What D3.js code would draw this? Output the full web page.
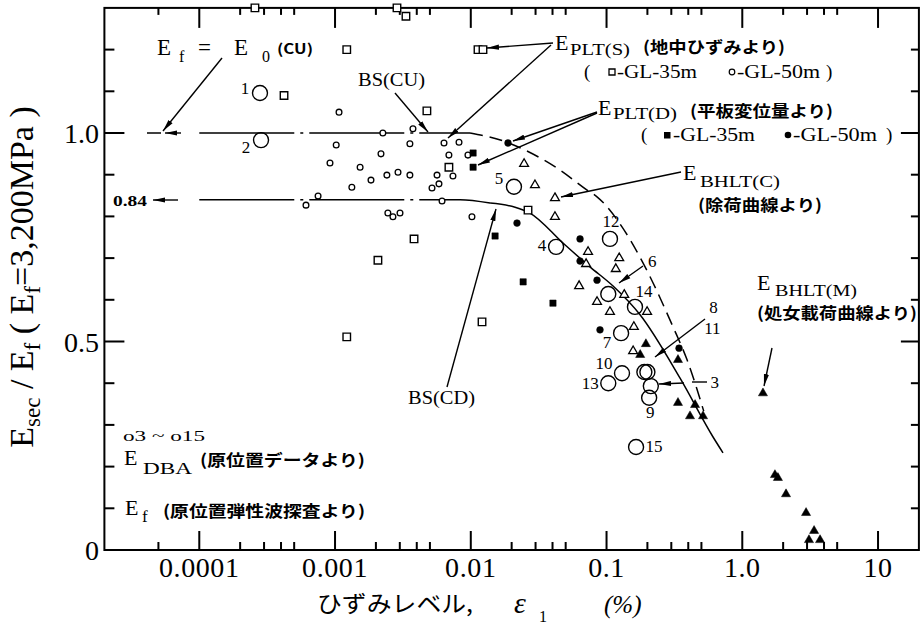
<!DOCTYPE html>
<html>
<head>
<meta charset="utf-8">
<script src="https://cdn.jsdelivr.net/npm/d3@7"></script>
<style>
  body { margin: 0; background: #fff; }
  text { fill: #000; }
</style>
</head>
<body>
<svg id="chart" width="920" height="627"></svg>
<script>
// ---- axis definitions -------------------------------------------------
const xTickValues = [0.0001, 0.001, 0.01, 0.1, 1, 10];
const xTickLabels = ["0.0001", "0.001", "0.01", "0.1", "1.0", "10"];
const xMinorTicks = [5e-5, 2e-4, 3e-4, 4e-4, 5e-4, 2e-3, 3e-3, 4e-3, 5e-3,
                     0.02, 0.03, 0.04, 0.05, 0.2, 0.3, 0.4, 0.5, 2, 3, 4, 5];
const yTickValues = [0, 0.5, 1.0];
const yTickLabels = ["0", "0.5", "1.0"];
const yMinorTicks = [0.1, 0.2, 0.3, 0.4, 0.6, 0.7, 0.8, 0.9, 1.1, 1.2];

// ---- data: [strain level (%), Esec/Ef] ----------------------------------
// E_PLT(S), ground strain, GL-35m (open squares)
const pltS35 = [[2.57e-4, 1.30], [2.86e-3, 1.30], [3.33e-3, 1.28], [1.22e-3, 1.20],
  [1.13e-2, 1.20], [1.23e-2, 1.20], [4.21e-4, 1.09], [4.75e-3, 1.053],
  [6.9e-3, 0.918], [2.64e-2, 0.815], [3.82e-3, 0.746], [2.07e-3, 0.695],
  [1.22e-3, 0.511], [1.21e-2, 0.547]];
// E_PLT(S), GL-50m (small open circles)
const pltS50 = [[1.07e-3, 1.05], [2.25e-3, 1.00], [3.75e-3, 1.01], [1.02e-3, 0.971],
  [3.56e-3, 0.974], [6.35e-3, 0.976], [8.19e-3, 0.978], [2.18e-3, 0.95],
  [6.9e-3, 0.947], [9.53e-3, 0.947], [9.18e-4, 0.928], [1.53e-3, 0.918],
  [2.41e-3, 0.899], [2.91e-3, 0.906], [3.56e-3, 0.899], [5.64e-3, 0.899],
  [7.39e-3, 0.897], [1.84e-3, 0.887], [5.83e-3, 0.878], [1.33e-3, 0.870],
  [5.18e-3, 0.868], [7.5e-4, 0.849], [6.11e-4, 0.827], [6.14e-3, 0.837],
  [1.02e-2, 0.799], [2.45e-3, 0.808], [2.67e-3, 0.799], [3.01e-3, 0.808]];
// E_PLT(D), plate displacement, GL-35m (filled squares)
const pltD35 = [[1.04e-2, 0.952], [1.04e-2, 0.918], [1.51e-2, 0.753],
  [2.43e-2, 0.643], [4.03e-2, 0.592]];
// E_PLT(D), GL-50m (filled circles)
const pltD50 = [[1.88e-2, 0.976], [2.19e-2, 0.784], [6.38e-2, 0.746], [6.38e-2, 0.693],
  [8.51e-2, 0.647], [8.95e-2, 0.528], [0.342, 0.484]];
// E_BHLT(C), unloading curve (open triangles)
const bhltC = [[2.47e-2, 0.926], [2.97e-2, 0.875], [4.17e-2, 0.844], [4.17e-2, 0.799],
  [7.31e-2, 0.715], [7.07e-2, 0.686], [6.28e-2, 0.633], [8.51e-2, 0.595],
  [0.124, 0.700], [0.117, 0.674], [0.135, 0.612], [0.106, 0.571],
  [0.199, 0.571], [0.159, 0.535], [0.157, 0.477]];
// E_BHLT(M), virgin loading curve (filled triangles)
const bhltM = [[0.195, 0.494], [0.177, 0.468], [0.336, 0.456], [0.336, 0.353],
  [0.449, 0.348], [0.412, 0.321], [0.514, 0.321], [1.42, 0.376],
  [1.74, 0.180], [1.83, 0.173], [2.10, 0.134], [2.95, 0.089],
  [3.38, 0.046], [3.10, 0.024], [3.74, 0.024]];
// E_DBA, in-situ data, sites 1-15 (large open circles)
const dbaIds = [1, 2, 3, 4, 5, 6, 7, 8, 9, 10, 11, 12, 13, 14, 15];
const dbaStrain = [2.80e-4, 2.85e-4, 0.212, 4.25e-2, 2.08e-2, 0.103, 0.128, 0.19,
  0.206, 0.130, 0.20, 0.106, 0.103, 0.162, 0.165];
const dbaRatio = [1.096, 0.983, 0.393, 0.727, 0.871, 0.614, 0.520, 0.427,
  0.365, 0.424, 0.427, 0.746, 0.400, 0.583, 0.247];

// trend lines
const bsCU = [[1e-4, 1.0], [9.87e-3, 1.0], [0.0173, 0.981], [0.0251, 0.959],
  [0.0455, 0.911], [0.0719, 0.863], [0.0851, 0.847], [0.130, 0.775],
  [0.186, 0.688], [0.309, 0.535], [0.392, 0.456], [0.52, 0.333]];
const bsCD = [[1e-4, 0.84], [8.33e-3, 0.84], [0.01387, 0.832], [0.0212, 0.822],
  [0.0273, 0.808], [0.0478, 0.736], [0.0755, 0.679], [0.1117, 0.633],
  [0.1766, 0.564], [0.348, 0.412], [0.609, 0.271], [0.721, 0.233]];

// ---- layout -----------------------------------------------------------
const svg = d3.select("#chart");
const L = 104.4, R = 918.9, T = 7.9, B = 550;
const x = d3.scaleLog().domain([2e-5, 20]).range([L, R]);
const y = d3.scaleLinear().domain([0, 1.3]).range([B, T]);
const SERIF = "'Liberation Serif','Times New Roman',serif";
const JP = "'Noto Sans CJK JP','Noto Sans CJK SC',sans-serif";

// ---- frame and inward ticks on all four sides (thin filled bars) --------
const TW = 2; // tick thickness
const tickG = svg.append("g").attr("fill", "#000");
[[xTickValues, 19, 20], [xMinorTicks, 8, 7]].forEach(([values, lb, lt]) => {
  tickG.append("g").selectAll("rect").data(values).join("rect")
    .attr("x", d => x(d) - TW / 2).attr("y", B - lb).attr("width", TW).attr("height", lb);
  tickG.append("g").selectAll("rect").data(values).join("rect")
    .attr("x", d => x(d) - TW / 2).attr("y", T).attr("width", TW).attr("height", lt);
});
[[yTickValues, 20, 18], [yMinorTicks, 10, 8]].forEach(([values, ll, lr]) => {
  tickG.append("g").selectAll("rect").data(values).join("rect")
    .attr("x", L).attr("y", d => y(d) - TW / 2).attr("width", ll).attr("height", TW);
  tickG.append("g").selectAll("rect").data(values).join("rect")
    .attr("x", R - lr).attr("y", d => y(d) - TW / 2).attr("width", lr).attr("height", TW);
});
svg.append("rect").attr("x", L).attr("y", T).attr("width", R - L).attr("height", B - T)
  .attr("fill", "none").attr("stroke", "#000").attr("stroke-width", 2);

const defs = svg.append("defs");
defs.append("marker").attr("id", "ah")
  .attr("viewBox", "0 0 12 6").attr("refX", 12).attr("refY", 3)
  .attr("markerWidth", 12).attr("markerHeight", 6)
  .attr("markerUnits", "userSpaceOnUse").attr("orient", "auto")
  .append("path").attr("d", "M0,0.4 L12,3 L0,5.6 Z").attr("fill", "#000");

// tick labels
svg.append("g").selectAll("text").data(xTickValues).join("text")
  .attr("x", d => x(d)).attr("y", 577).attr("text-anchor", "middle")
  .attr("font-family", SERIF).attr("font-size", 28).attr("letter-spacing", 0.6)
  .text((d, i) => xTickLabels[i]);
svg.append("g").selectAll("text").data(yTickValues).join("text")
  .attr("x", 99).attr("y", d => y(d) + 10).attr("text-anchor", "end")
  .attr("font-family", SERIF).attr("font-size", 28)
  .text((d, i) => yTickLabels[i]);

// axis titles
const yt = svg.append("text").attr("transform", "translate(33,277) rotate(-90)")
  .attr("text-anchor", "middle").attr("font-family", SERIF).attr("font-size", 34);
yt.append("tspan").text("E");
yt.append("tspan").attr("font-size", 23).attr("dy", 7).text("sec");
yt.append("tspan").attr("dy", -7).text(" / E");
yt.append("tspan").attr("font-size", 23).attr("dy", 7).text("f");
yt.append("tspan").attr("dy", -7).text(" ( E");
yt.append("tspan").attr("font-size", 23).attr("dy", 7).text("f");
yt.append("tspan").attr("dy", -7).text("=3,200MPa )");

svg.append("text").attr("x", 317).attr("y", 612).attr("font-family", JP)
  .attr("font-size", 23).attr("textLength", 156).attr("lengthAdjust", "spacingAndGlyphs")
  .text("ひずみレベル,");
svg.append("text").attr("x", 514).attr("y", 613).attr("font-family", SERIF)
  .attr("font-style", "italic").attr("font-size", 30).text("ε");
svg.append("text").attr("x", 539).attr("y", 622).attr("font-family", SERIF)
  .attr("font-size", 16).text("1");
svg.append("text").attr("x", 604).attr("y", 613).attr("font-family", SERIF)
  .attr("font-style", "italic").attr("font-size", 25).text("(%)");

// ---- trend lines ------------------------------------------------------
const curve = d3.line().x(d => x(d[0])).y(d => y(d[1])).curve(d3.curveMonotoneX);
const trend = svg.append("g").attr("fill", "none").attr("stroke", "#000").attr("stroke-width", 1.5);
trend.append("path").attr("d", curve(bsCU.slice(0, 2))).attr("stroke-dasharray", "95,6,3,6");
trend.append("path").attr("d", curve(bsCU.slice(1))).attr("stroke-dasharray", "13,7");
trend.append("path").attr("d", curve(bsCD.slice(0, 3))).attr("stroke-dasharray", "95,6,3,6");
trend.append("path").attr("d", curve(bsCD.slice(2)));

// ---- data marks -------------------------------------------------------
const marks = svg.append("g");
function symbols(data, type, size, filled, sw) {
  marks.append("g").selectAll("path").data(data).join("path")
    .attr("transform", d => `translate(${x(d[0])},${y(d[1])})`)
    .attr("d", d3.symbol().type(type).size(size))
    .attr("fill", filled ? "#000" : "#fff")
    .attr("stroke", "#000").attr("stroke-width", sw);
}
symbols(pltS35, d3.symbolSquare, 56, false, 1.4);
symbols(pltS50, d3.symbolCircle, 26, false, 1.3);
symbols(pltD35, d3.symbolSquare, 40, true, 0.5);
symbols(pltD50, d3.symbolCircle, 36, true, 0.5);
symbols(bhltC, d3.symbolTriangle, 34, false, 1.3);
symbols(bhltM, d3.symbolTriangle, 36, true, 0.5);

const dba = dbaIds.map((id, i) => ({ id, s: dbaStrain[i], r: dbaRatio[i] }));
marks.append("g").selectAll("circle").data(dba).join("circle")
  .attr("cx", d => x(d.s)).attr("cy", d => y(d.r)).attr("r", 7.5)
  .attr("fill", "none").attr("stroke", "#000").attr("stroke-width", 1.4);

// site number labels (offset from each circle)
const dbaLabelOffset = { 1: [-15, -4], 2: [-15, 7], 3: [64, -4], 4: [-14, -1], 5: [-15, -8],
  6: [44, -32], 7: [-14, 9], 8: [69, -64], 9: [1, 15], 10: [-18, -10], 11: [65, -43],
  12: [1, -17], 13: [-18, 0], 14: [9, -15], 15: [18, -1] };
marks.append("g").selectAll("text").data(dba).join("text")
  .attr("x", d => x(d.s) + dbaLabelOffset[d.id][0])
  .attr("y", d => y(d.r) + dbaLabelOffset[d.id][1])
  .attr("text-anchor", "middle").attr("dominant-baseline", "central")
  .attr("font-family", SERIF).attr("font-size", 17).text(d => d.id);

// ---- annotations ------------------------------------------------------
const arrows = [
  [[222, 58], [163, 131]],   // Ef = E0(CU)
  [[395, 93], [428, 132]],   // BS(CU)
  [[553, 43], [487, 48]],    // EPLT(S)
  [[551, 45], [448, 138]],
  [[597, 112], [513, 141]],  // EPLT(D)
  [[597, 113], [478, 165]],
  [[681, 172], [561, 197]],  // EBHLT(C)
  [[772, 348], [764, 386]],  // EBHLT(M)
  [[447, 387], [496, 209]],  // BS(CD)
  [[643, 266], [619, 283]],  // site 6
  [[705, 319], [655, 357]],  // sites 8, 11
  [[684, 383], [659, 384]],  // site 3
  [[181, 133], [165, 133]],  // 1.0 extension
  [[178, 200], [153, 200]]   // 0.84 extension
];
const ann = svg.append("g");
ann.selectAll("line.arrow").data(arrows).join("line").attr("class", "arrow")
  .attr("x1", d => d[0][0]).attr("y1", d => d[0][1])
  .attr("x2", d => d[1][0]).attr("y2", d => d[1][1])
  .attr("stroke", "#000").attr("stroke-width", 1.4).attr("marker-end", "url(#ah)");
ann.append("line").attr("x1", 147).attr("y1", 133).attr("x2", 161).attr("y2", 133)
  .attr("stroke", "#000").attr("stroke-width", 1.5);
ann.append("line").attr("x1", 692).attr("y1", 382).attr("x2", 707).attr("y2", 382)
  .attr("stroke", "#000").attr("stroke-width", 1.4);

function txt(xp, yp, s, size, font, opts = {}) {
  const t = ann.append("text").attr("x", xp).attr("y", yp)
    .attr("font-family", font).attr("font-size", size).text(s);
  if (opts.w) t.attr("textLength", opts.w).attr("lengthAdjust", "spacingAndGlyphs");
  if (opts.bold) t.attr("font-weight", 700);
  return t;
}

// Ef = E0(CU)
txt(157, 55, "E", 23, SERIF);
txt(179, 62, "f", 16, SERIF);
txt(198, 55, "=", 23, SERIF);
txt(234, 55, "E", 23, SERIF);
txt(262, 62, "0", 16, SERIF);
txt(277, 54, "(CU)", 14, JP, { bold: true, w: 36 });
txt(358, 86, "BS(CU)", 18, SERIF, { w: 67 });
txt(408, 404, "BS(CD)", 18, SERIF, { w: 67 });
txt(113, 206, "0.84", 15, SERIF, { bold: true, w: 34 });

// EPLT(S)
txt(555, 50, "E", 22, SERIF);
txt(570, 55, "PLT(S)", 17, SERIF, { w: 60 });
txt(643, 53, "(地中ひずみより)", 16, JP, { bold: true, w: 142 });
txt(584, 78, "(", 19, SERIF);
ann.append("path").attr("transform", "translate(612,72)")
  .attr("d", d3.symbol().type(d3.symbolSquare).size(36)).attr("fill", "#fff")
  .attr("stroke", "#000").attr("stroke-width", 1.3);
txt(617, 78, "-GL-35m", 19, SERIF, { w: 80 });
ann.append("circle").attr("cx", 732).attr("cy", 72).attr("r", 2.8)
  .attr("fill", "#fff").attr("stroke", "#000").attr("stroke-width", 1.2);
txt(737, 78, "-GL-50m", 19, SERIF, { w: 83 });
txt(826, 78, ")", 19, SERIF);

// EPLT(D)
txt(598, 115, "E", 22, SERIF);
txt(613, 119, "PLT(D)", 17, SERIF, { w: 64 });
txt(690, 117, "(平板変位量より)", 16, JP, { bold: true, w: 143 });
txt(641, 141, "(", 19, SERIF);
ann.append("rect").attr("x", 664).attr("y", 132).attr("width", 6.5).attr("height", 6.5).attr("fill", "#000");
txt(673, 141, "-GL-35m", 19, SERIF, { w: 82 });
ann.append("circle").attr("cx", 788).attr("cy", 135).attr("r", 3.3).attr("fill", "#000");
txt(793, 141, "-GL-50m", 19, SERIF, { w: 84 });
txt(886, 141, ")", 19, SERIF);

// EBHLT(C)
txt(683, 180, "E", 22, SERIF);
txt(700, 187, "BHLT(C)", 17, SERIF, { w: 80 });
txt(698, 211, "(除荷曲線より)", 16, JP, { bold: true, w: 124 });

// EBHLT(M)
txt(757, 290, "E", 22, SERIF);
txt(775, 296, "BHLT(M)", 17, SERIF, { w: 82 });
txt(757, 319, "(処女載荷曲線より)", 16, JP, { bold: true, w: 160 });

// EDBA, Ef notes
txt(123, 441, "o3 ~ o15", 15, SERIF, { w: 82 });
txt(124, 465, "E", 22, SERIF);
txt(143, 474, "DBA", 17, SERIF, { w: 49 });
txt(200, 466, "(原位置データより)", 16, JP, { bold: true, w: 165 });
txt(125, 515, "E", 22, SERIF);
txt(142, 522, "f", 17, SERIF);
txt(163, 517, "(原位置弾性波探査より)", 16, JP, { bold: true, w: 202 });
</script>
</body>
</html>
